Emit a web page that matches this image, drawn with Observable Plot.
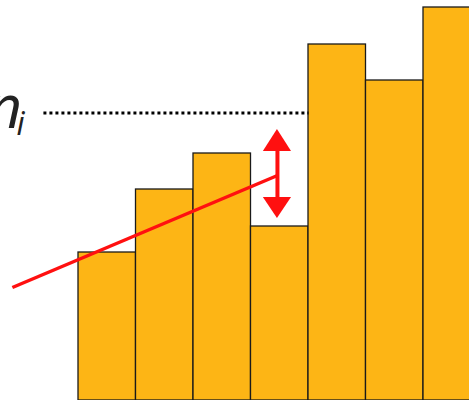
<!DOCTYPE html>
<html>
<head>
<meta charset="utf-8">
<script src="https://cdn.jsdelivr.net/npm/d3@7"></script>
<script src="https://cdn.jsdelivr.net/npm/@observablehq/plot@0.6"></script>
<style>
html, body { margin: 0; padding: 0; background: white; overflow: hidden; }
</style>
</head>
<body>
<div id="chart"></div>
<script>
// Bar data: index and height
const barIndex = [0, 1, 2, 3, 4, 5, 6];
const barHeight = [148, 211, 247, 174, 356, 320, 393];

// Mean level n_i (dotted line)
const meanLevel = 287.5;
const meanLineX = [-0.61, 4.0];

// Red regression line
const fitX = [-1.15, 3.46];
const fitY = [113, 225];

// Red double arrow (at end of fit line)
const arrowX = 3.46;
const arrowHalfWidth = 0.245;
const arrowTopTip = 271, arrowTopBase = 249;
const arrowBottomBase = 203, arrowBottomTip = 182;

const bars = barIndex.map((i, k) => ({x1: i, x2: i + 1, h: barHeight[k]}));
const fitLine = fitX.map((x, k) => ({x, y: fitY[k]}));
const meanLine = meanLineX.map(x => ({x, y: meanLevel}));
const headTop = [
  {x: arrowX - arrowHalfWidth, y1: arrowTopBase, y2: arrowTopBase},
  {x: arrowX, y1: arrowTopBase, y2: arrowTopTip},
  {x: arrowX + arrowHalfWidth, y1: arrowTopBase, y2: arrowTopBase}
];
const headBottom = [
  {x: arrowX - arrowHalfWidth, y1: arrowBottomBase, y2: arrowBottomBase},
  {x: arrowX, y1: arrowBottomBase, y2: arrowBottomTip},
  {x: arrowX + arrowHalfWidth, y1: arrowBottomBase, y2: arrowBottomBase}
];

const chart = Plot.plot({
  width: 469,
  height: 400,
  margin: 0,
  x: {domain: [-78 / 57.5, 391 / 57.5], axis: null},
  y: {domain: [0, 400], axis: null},
  marks: [
    Plot.rect(bars, {x1: "x1", x2: "x2", y1: 0, y2: "h", fill: "#FDB515", stroke: "#1a1a1a", strokeWidth: 1.3}),
    Plot.line(meanLine, {x: "x", y: "y", stroke: "black", strokeWidth: 3, strokeDasharray: "3,3", strokeLinecap: "butt"}),
    Plot.line(fitLine, {x: "x", y: "y", stroke: "#ff1010", strokeWidth: 3.5, strokeLinecap: "butt"}),
    Plot.link([{x: arrowX, y1: arrowTopBase + 1, y2: arrowBottomBase - 1}], {x1: "x", x2: "x", y1: "y1", y2: "y2", stroke: "#ff1010", strokeWidth: 4}),
    Plot.areaY(headTop, {x: "x", y1: "y1", y2: "y2", fill: "#ff1010"}),
    Plot.areaY(headBottom, {x: "x", y1: "y1", y2: "y2", fill: "#ff1010"}),
    Plot.text([{x: -0.98, y: 273}], {x: "x", y: "y", text: () => "n", textAnchor: "end", lineAnchor: "bottom", fontSize: 60, fontStyle: "italic", fontWeight: 500, fontFamily: "Open Sans", fill: "#222"}),
    Plot.text([{x: -1.08, y: 266}], {x: "x", y: "y", text: () => "i", textAnchor: "start", lineAnchor: "bottom", fontSize: 32, fontStyle: "italic", fontWeight: 500, fontFamily: "Open Sans", fill: "#222"})
  ]
});
document.getElementById("chart").appendChild(chart);
</script>
</body>
</html>
